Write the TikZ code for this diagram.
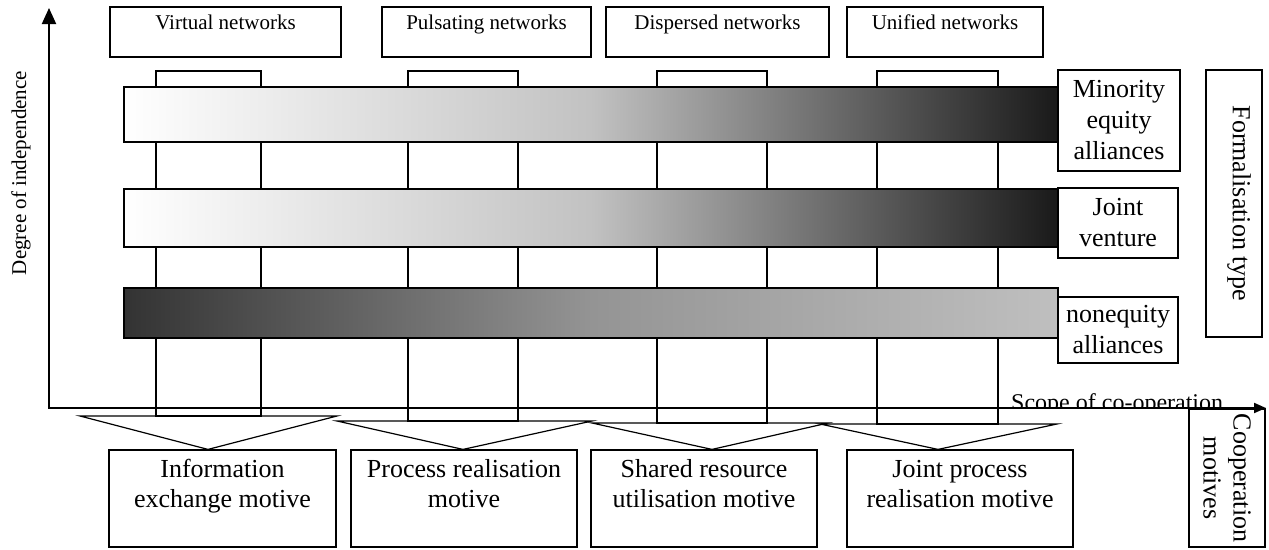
\documentclass[tikz,border=0pt]{standalone}
\usepackage{fontspec}
\setmainfont{Liberation Serif}
\usetikzlibrary{arrows.meta}

\begin{document}
\begin{tikzpicture}[x=1pt,y=-1pt,
  netbox/.style={draw,line width=1.2pt,minimum height=50pt,inner sep=2pt,align=center,font=\fontsize{21}{20}\selectfont},
  motbox/.style={draw,line width=1.2pt,minimum width=226pt,minimum height=97pt,inner sep=2pt,align=center,font=\fontsize{26}{30}\selectfont},
  typebox/.style={draw,fill=white,line width=1.2pt,minimum width=120pt,inner sep=2pt,align=center,font=\fontsize{26}{31}\selectfont},
  sidebox/.style={draw,line width=1.2pt,rotate=-90,inner sep=2pt,align=center,font=\fontsize{26}{30}\selectfont},
  column/.style={line width=1.2pt},
  bar/.style={draw=black,line width=1.2pt},
  wedge/.style={line width=1.2pt,line join=miter}]

\useasboundingbox (0,0) rectangle (1269,549);

% network types
\node (virt) [netbox,minimum width=231pt] at (225.5,32) {Virtual networks\\\mbox{}};
\node (puls) [netbox,minimum width=209pt] at (486.5,32) {Pulsating networks\\\mbox{}};
\node (disp) [netbox,minimum width=223pt] at (717.5,32) {Dispersed networks\\\mbox{}};
\node (unif) [netbox,minimum width=196pt] at (945,32) {Unified networks\\\mbox{}};

% columns
\draw[column] (156,71) rectangle (261,416);
\draw[column] (408,71) rectangle (518,421);
\draw[column] (657,71) rectangle (767,423);
\draw[column] (877,71) rectangle (998,424);

% motives
\node (info) [motbox,minimum width=227pt] at (222.5,498.5) {Information\\exchange motive\\\mbox{}};
\node (proc) [motbox] at (464,498.5) {Process realisation\\motive\\\mbox{}};
\node (share) [motbox] at (704,498.5) {Shared resource\\utilisation motive\\\mbox{}};
\node (joint) [motbox] at (960,498.5) {Joint process\\realisation motive\\\mbox{}};

\draw[wedge] (80,416) -- (337,416) -- (208,0 |- info.north) -- cycle;
\draw[wedge] (337,421) -- (592,421) -- (463,0 |- proc.north) -- cycle;
\draw[wedge] (592,423) -- (828,423) -- (712,0 |- share.north) -- cycle;
\draw[wedge] (820,424) -- (1057,424) -- (938,0 |- joint.north) -- cycle;

% formalisation bars
\path[bar,left color=white,right color=black!90,middle color=black!24] (124,87) rectangle (1058,142);
\path[bar,left color=white,right color=black!90,middle color=black!24] (124,189) rectangle (1058,247);
\path[bar,left color=black!80,right color=black!25,middle color=black!42] (124,288) rectangle (1058,338);

\node (minor) [typebox,minimum width=122pt,minimum height=101pt] at (1119,120.5) {Minority\\equity\\alliances};
\node (jv) [typebox,minimum height=70pt] at (1118,223) {Joint\\venture};
\node (noneq) [typebox,minimum height=66pt] at (1118,330) {nonequity\\alliances};
\node (form) [sidebox,minimum width=267pt,minimum height=56pt,text depth=16pt] at (1234,203.5) {Formalisation type};
\node (coop) [sidebox,minimum width=138pt,minimum height=76pt] at (1227,478) {Cooperation\\motives};

% axes
\node (indep) [rotate=90,font=\fontsize{21}{24}\selectfont] at (21,173) {Degree of independence};
\begin{scope}
\clip (1000,380) rectangle (1240,407);
\node (scopelab) [anchor=base west,inner sep=0pt,font=\fontsize{24}{27}\selectfont] at (1011,410) {Scope of co-operation};
\end{scope}

\coordinate (origin) at (49,408);
\coordinate (ytip) at (49,8);
\coordinate (xtip) at (1266,408);
\draw[line width=2pt,line join=miter,{Triangle[length=16pt,width=14pt]}-{Triangle[length=12pt,width=10pt]}] (ytip) -- (origin) -- (xtip);

\end{tikzpicture}
\end{document}
